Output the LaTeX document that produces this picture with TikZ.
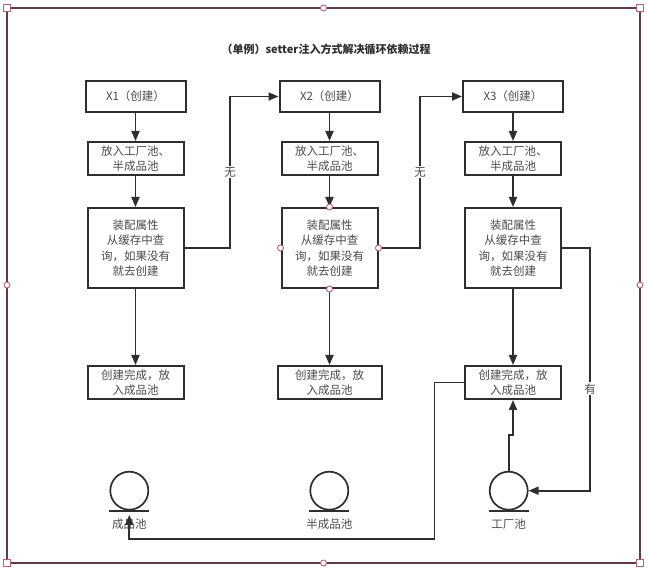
\documentclass[tikz,border=0pt]{standalone}
\usepackage{fontspec}
\setmainfont{Noto Sans CJK SC}
\usetikzlibrary{positioning,arrows.meta}
\definecolor{ink}{HTML}{2E2E2E}
\definecolor{txt}{HTML}{4A4A4A}
\definecolor{selframe}{HTML}{5E3C44}
\definecolor{handle}{HTML}{B8607A}

\begin{document}
\begin{tikzpicture}[x=1pt,y=1pt,
box/.style={draw=ink,line width=2pt,rectangle,text=txt,align=center,
    font=\fontsize{11.5}{15.5}\selectfont,inner sep=0pt},
pool/.style={draw=ink,line width=1.7pt,circle,minimum size=38pt,inner sep=0pt},
arr/.style={draw=ink,line width=1.8pt,-{Triangle[length=10pt,width=8pt]}},
tag/.style={fill=white,text=txt,font=\fontsize{11.5}{14}\selectfont,inner sep=1pt},
dot/.style={circle,draw=handle,fill=white,line width=0.9pt,minimum size=6pt,inner sep=0pt},
sq/.style={rectangle,draw=handle,fill=white,line width=0.9pt,minimum size=6.5pt,inner sep=0pt}]
\useasboundingbox (0,0) rectangle (648,569);

% selection frame
\draw[selframe,line width=1.2pt] (7,6) rectangle (640,561);
\foreach \px/\py in {7/6,640/6,7/561,640/561}
  \node[sq] at (\px,\py) {};
\foreach \px/\py in {323.5/561,323.5/6,7/284,640/284}
  \node[dot] at (\px,\py) {};

\node (title) at (326,520) [text=ink,font=\fontsize{11}{13}\selectfont\bfseries]
    {（单例）setter注入方式解决循环依赖过程};

% column 1
\node (x1) at (135.5,472.5) [box,minimum width=100pt,minimum height=31pt] {X1（创建）};
\node (b1) [box,below=28pt of x1,minimum width=96pt,minimum height=33pt] {放入工厂池、\\半成品池};
\node (a1) [box,below=31pt of b1,minimum width=96pt,minimum height=80pt]
    {装配属性\\从缓存中查\\询，如果没有\\就去创建};
\node (f1) [box,below=76pt of a1,minimum width=96pt,minimum height=33pt] {创建完成，放\\入成品池};

% column 2
\node (x2) at (329.5,472.5) [box,minimum width=100pt,minimum height=31pt] {X2（创建）};
\node (b2) [box,below=28pt of x2,minimum width=96pt,minimum height=33pt] {放入工厂池、\\半成品池};
\node (a2) [box,below=31pt of b2,minimum width=96pt,minimum height=80pt]
    {装配属性\\从缓存中查\\询，如果没有\\就去创建};
\node (f2) [box,below=76pt of a2,minimum width=104pt,minimum height=33pt] {创建完成，放\\入成品池};

% column 3
\node (x3) at (513,472.5) [box,minimum width=100pt,minimum height=31pt] {X3（创建）};
\node (b3) [box,below=28pt of x3,minimum width=96pt,minimum height=33pt] {放入工厂池、\\半成品池};
\node (a3) [box,below=31pt of b3,minimum width=96pt,minimum height=80pt]
    {装配属性\\从缓存中查\\询，如果没有\\就去创建};
\node (f3) [box,below=76pt of a3,minimum width=96pt,minimum height=33pt] {创建完成，放\\入成品池};

% pools
\node (p1) at (129.3,78.3) [pool] {};
\node (p2) at (329.3,78.3) [pool] {};
\node (p3) at (508.7,78.3) [pool] {};
\foreach \p in {p1,p2,p3}
  \draw[ink,line width=2pt] ([xshift=-20pt]\p.south) -- ([xshift=20pt]\p.south);
\node (l1) [below=8pt of p1,anchor=north,inner sep=0pt,text=txt,font=\fontsize{11.5}{14}\selectfont] {成品池};
\node (l2) [below=8pt of p2,anchor=north,inner sep=0pt,text=txt,font=\fontsize{11.5}{14}\selectfont] {半成品池};
\node (l3) [below=8pt of p3,anchor=north,inner sep=0pt,text=txt,font=\fontsize{11.5}{14}\selectfont] {工厂池};

% downward flow
\foreach \c in {1,2,3} {
  \draw[arr] (x\c) -- (b\c);
  \draw[arr] (b\c) -- (a\c);
  \draw[arr] (a\c) -- (f\c);
}

% lookups
\draw[arr] (a1.east) -- ++(45.5,0) |- (x2.west) node[tag,pos=0.25] {无};
\draw[arr] (a2.east) -- ++(41.5,0) |- (x3.west) node[tag,pos=0.25] {无};
\draw[arr] (a3.east) -- ++(28,0) |- (p3.east) node[tag,pos=0.29] {有};
\draw[arr] (p3.north) -- ++(0,35.7) -| (f3.south);
\coordinate (p1in) at ([yshift=-4.3pt]p1.south);
\draw[arr] (f3.west) -- ++(-29.5,0) |- ([yshift=-24.3pt]p1in) -- (p1in);

% hover points on a2
\foreach \a in {north,south,east,west}
  \node[dot] at (a2.\a) {};
\end{tikzpicture}
\end{document}
